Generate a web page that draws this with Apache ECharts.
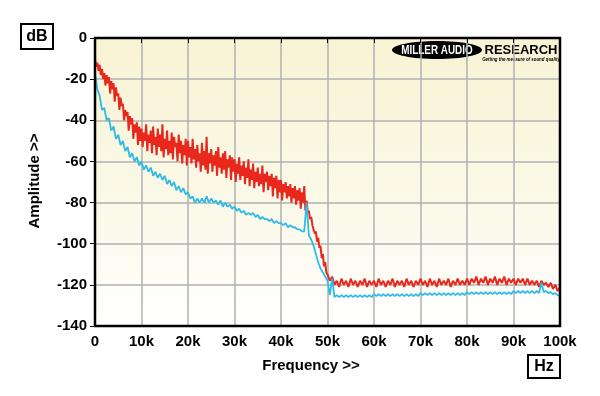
<!DOCTYPE html>
<html><head><meta charset="utf-8">
<script src="https://cdn.jsdelivr.net/npm/echarts@6/dist/echarts.min.js"></script>
<style>html,body{margin:0;padding:0;background:#fff}#c{width:600px;height:396px}</style>
</head><body><div id="c"></div>
<script>
// frequency samples in kHz
const freqKHz = [];            // 0 .. 100 step 0.5 (cyan, red upper part)
for (let i = 0; i <= 200; i++) freqKHz.push(i * 0.5);
const freqLowKHz = [];         // 0 .. 49.75 step 0.25 (red lower part)
for (let i = 0; i < 200; i++) freqLowKHz.push(i * 0.25);
const freqHighKHz = freqKHz.slice(100); // 50 .. 100 step 0.5

const xTicks = [0,10,20,30,40,50,60,70,80,90,100];
const yTicks = [0,-20,-40,-60,-80,-100,-120,-140];

// red trace 0..49.75 kHz (dB), one value per 0.25 kHz
const redLowDb = [
-10,-14,-12,-16,-13,-18,-15,-20,-17,-23,-18,-22,-19,-27,-21,-25,-22,-31,-24,-28,
-27,-35,-29,-33,-32,-40,-35,-38,-36,-45,-38,-42,-39,-49,-42,-46,-41,-52,-43,-50,
-44,-53,-46,-50,-42,-55,-47,-51,-45,-56,-43,-52,-48,-57,-44,-53,-47,-55,-42,-58,
-49,-54,-45,-57,-50,-56,-46,-59,-48,-53,-51,-60,-47,-56,-50,-61,-52,-57,-49,-62,
-50,-58,-53,-61,-49,-59,-54,-63,-52,-60,-56,-65,-51,-62,-55,-64,-48,-66,-56,-61,
-54,-65,-57,-62,-55,-67,-53,-63,-58,-66,-56,-64,-55,-68,-59,-63,-57,-69,-58,-65,
-59,-70,-61,-66,-58,-69,-62,-67,-60,-71,-63,-68,-59,-72,-64,-69,-61,-73,-65,-70,
-63,-72,-66,-71,-62,-75,-66,-70,-65,-74,-67,-72,-66,-77,-68,-73,-67,-78,-69,-75,
-69,-79,-71,-75,-70,-78,-72,-77,-71,-80,-73,-78,-72,-81,-74,-79,-73,-83,-75,-80,
-72,-84,-79,-85,-84,-88,-87,-91,-91,-95,-94,-99,-97,-102,-101,-107,-105,-111,-109,-114
];

// red trace 50..100 kHz (dB), one value per 0.5 kHz
const redHighDb = [
-115,-118,-116,-120,-118,-121,-117,-120,-118,-121,-117,-120,-118,-121,-118,-120,-117,-121,-118,-120,
-118,-121,-117,-120,-118,-121,-118,-120,-117,-121,-118,-120,-118,-121,-117,-120,-118,-121,-118,-120,
-117,-120,-118,-121,-117,-120,-118,-121,-117,-120,-118,-120,-117,-121,-118,-120,-117,-120,-118,-120,
-117,-120,-117,-119,-116,-120,-117,-119,-116,-120,-117,-119,-116,-120,-117,-119,-116,-120,-117,-119,
-117,-120,-117,-119,-117,-120,-117,-120,-118,-120,-118,-121,-118,-120,-119,-121,-119,-122,-120,-123,
-121
];

// cyan trace (dB), one value per 0.5 kHz
const cyanDb = [
-17,-25,-28,-35,-34,-40,-39,-45,-43,-49,-47,-52,-50,-55,-53,-58,-56,-60,-58,-62,
-60,-64,-62,-65,-63,-67,-65,-68,-66,-69,-67,-71,-69,-72,-70,-74,-72,-75,-73,-76,
-75,-78,-77,-80,-78,-80,-78,-80,-77,-80,-78,-80,-79,-81,-79,-82,-80,-82,-81,-83,
-82,-84,-83,-85,-84,-86,-85,-86,-85,-87,-86,-88,-87,-88,-88,-89,-88,-90,-89,-90,
-90,-91,-90,-92,-91,-92,-92,-93,-93,-94,-94,-80,-96,-98,-101,-105,-109,-112,-114,-116,
-118,-125,-117,-126,-125,-126,-125,-126,-125,-126,-125,-126,-125,-126,-125,-126,-125,-126,-125,-126,
-124.5,-125.5,-124.5,-125.5,-124.5,-125.5,-124.5,-125.5,-124.5,-125.5,-124.5,-125.5,-124.5,-125.5,-124.5,-125.5,-124.5,-125.5,-124.5,-125.5,
-124,-125,-124,-125,-124,-125,-124,-125,-124,-125,-124,-125,-124,-125,-124,-125,-124,-125,-124,-125,
-123.5,-124.5,-123.5,-124.5,-123.5,-124.5,-123.5,-124.5,-123.5,-124.5,-123.5,-124.5,-123.5,-124.5,-123.5,-124.5,-123.5,-124.5,-123.5,-124.5,
-123,-124,-123,-124,-123,-124,-123,-124,-123,-124,-123,-124,-119,-123.5,-123,-124,-123.5,-124.5,-124,-125,
-125.5
];

const zip = (xs, ys) => xs.map((x, i) => [x, ys[i]]);
const redData = zip(freqLowKHz, redLowDb).concat(zip(freqHighKHz, redHighDb));
const FONT = 'Liberation Sans, Arial, sans-serif';

const chart = echarts.init(document.getElementById('c'), null, {renderer: 'canvas'});
chart.setOption({
  animation: false,
  backgroundColor: '#ffffff',
  grid: {
    left: 95, top: 38, width: 465, height: 288, show: true,
    borderColor: '#000', borderWidth: 0,
    backgroundColor: new echarts.graphic.LinearGradient(0, 0, 0, 1, [
      {offset: 0, color: '#f8f3d4'}, {offset: 0.6, color: '#fbf9e9'}, {offset: 1, color: '#ffffff'}
    ])
  },
  xAxis: {
    type: 'value', min: xTicks[0], max: xTicks[xTicks.length - 1], interval: 10,
    axisLine: {show: false},
    axisTick: {show: true, length: 5, lineStyle: {color: '#000', width: 1}},
    splitLine: {show: true, lineStyle: {color: '#b0b0b0', width: 1.5}},
    axisLabel: {color: '#000', fontWeight: 'bold', fontSize: 15, fontFamily: FONT, margin: 8,
      formatter: v => v === 0 ? '0' : v + 'k'}
  },
  yAxis: {
    type: 'value', min: yTicks[yTicks.length - 1], max: yTicks[0], interval: 20,
    axisLine: {show: false},
    axisTick: {show: true, length: 5, lineStyle: {color: '#000', width: 1}},
    splitLine: {show: true, lineStyle: {color: '#b0b0b0', width: 1.5}},
    axisLabel: {color: '#000', fontWeight: 'bold', fontSize: 15, fontFamily: FONT, margin: 8}
  },
  series: [
    {type: 'line', data: zip(freqKHz, cyanDb), showSymbol: false, silent: true,
      lineStyle: {color: '#2fbbe8', width: 1.8}, z: 3},
    {type: 'line', data: redData, showSymbol: false, silent: true,
      lineStyle: {color: '#e8281c', width: 2}, z: 2}
  ],
  graphic: [
    {type: 'rect', z: 100, shape: {x: 95, y: 38, width: 465, height: 288},
      style: {fill: null, stroke: '#000', lineWidth: 2.5}},
    {type: 'rect', shape: {x: 21, y: 24, width: 32, height: 25},
      style: {fill: '#fff', stroke: '#000', lineWidth: 2}},
    {type: 'text', x: 37, y: 36.5, style: {text: 'dB', fill: '#000', font: 'bold 16px ' + FONT,
      align: 'center', verticalAlign: 'middle'}},
    {type: 'rect', shape: {x: 528, y: 355, width: 32, height: 23},
      style: {fill: '#fff', stroke: '#000', lineWidth: 2}},
    {type: 'text', x: 544, y: 366.5, style: {text: 'Hz', fill: '#000', font: 'bold 16px ' + FONT,
      align: 'center', verticalAlign: 'middle'}},
    {type: 'text', x: 311, y: 366, style: {text: 'Frequency >>', fill: '#000', font: 'bold 15px ' + FONT,
      align: 'center', verticalAlign: 'middle'}},
    {type: 'text', x: 35, y: 181, rotation: Math.PI / 2,
      style: {text: 'Amplitude >>', fill: '#000', font: 'bold 15px ' + FONT,
      align: 'center', verticalAlign: 'middle'}},
    // logo
    {type: 'ellipse', shape: {cx: 437, cy: 50, rx: 45, ry: 9}, style: {fill: '#000'}},
    {type: 'text', x: 437, y: 50, scaleX: 0.76,
      style: {text: 'MILLER AUDIO', fill: '#fff', font: '900 13px ' + FONT, align: 'center', verticalAlign: 'middle'}},
    {type: 'text', x: 521, y: 50, scaleX: 1.0,
      style: {text: 'RESEARCH', fill: '#000', font: '900 13px ' + FONT, align: 'center', verticalAlign: 'middle'}},
    {type: 'text', x: 521, y: 59.5, scaleX: 0.8,
      style: {text: 'Getting the measure of sound quality', fill: '#000', font: 'italic bold 5.5px ' + FONT,
      align: 'center', verticalAlign: 'middle'}}
  ]
});
</script>
</body></html>
